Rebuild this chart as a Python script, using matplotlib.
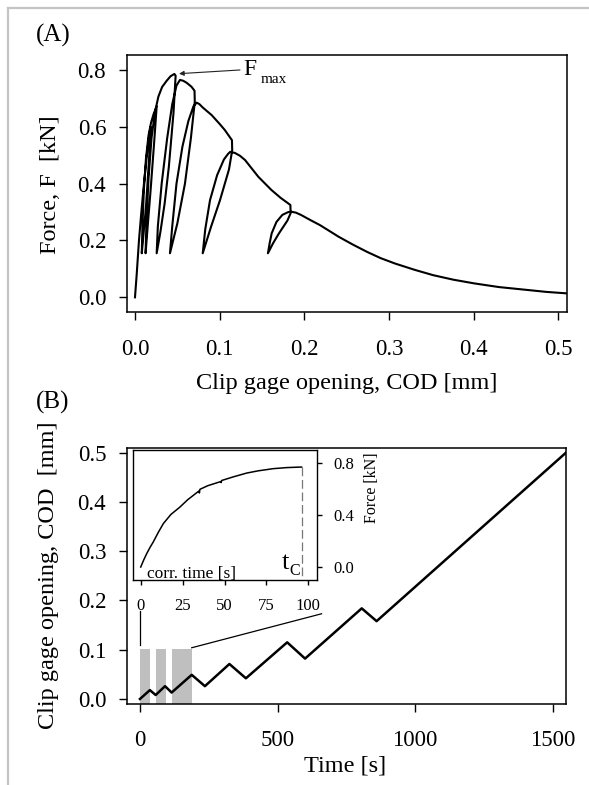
"""
Fracture test figure: force vs. clip gage opening (A) and COD vs. time with inset (B).
"""

import matplotlib
matplotlib.use("Agg")
import matplotlib.pyplot as plt
from matplotlib.lines import Line2D

plt.rcParams["font.family"] = ["Liberation Serif", "DejaVu Serif"]

# ---- Panel A: force vs. COD (loading / unloading cycles) ----
cod_a = [0.000, 0.002, 0.0047, 0.0075, 0.0106, 0.0140, 0.0170, 0.0185,
         0.0165, 0.0130, 0.0100, 0.0080,
         0.0088, 0.0105, 0.0130, 0.0160, 0.0190, 0.0220, 0.0256,
         0.0225, 0.0185, 0.0150, 0.0125,
         0.0135, 0.0160, 0.0195, 0.0235, 0.0276, 0.0320, 0.0374, 0.0420, 0.0465, 0.0480,
         0.0455, 0.0400, 0.0350, 0.0300, 0.0256,
         0.0270, 0.0315, 0.0380, 0.0440, 0.0490, 0.0531, 0.0570, 0.0610, 0.0667, 0.0703,
         0.0706,
         0.0660, 0.0590, 0.0500, 0.0413,
         0.0440, 0.0490, 0.0560, 0.0630, 0.0690, 0.0728, 0.0760, 0.0800, 0.0906, 0.1000,
         0.1060, 0.1145, 0.1148,
         0.1110, 0.1004, 0.0900, 0.0800,
         0.0830, 0.0886, 0.0970, 0.1050, 0.1100, 0.1125, 0.1180, 0.1240, 0.1300, 0.1457,
         0.1610, 0.1720, 0.1835, 0.1838,
         0.1800, 0.1700, 0.1630, 0.1570,
         0.1590, 0.1614, 0.1670, 0.1740, 0.1810, 0.1850, 0.1900, 0.1960, 0.2070, 0.2185,
         0.2406, 0.2570, 0.2740, 0.2900, 0.3070, 0.3300, 0.3520, 0.3760, 0.4006, 0.4300,
         0.4630, 0.4860, 0.5095]
force_a = [0.000, 0.080, 0.200, 0.300, 0.400, 0.500, 0.575, 0.600,
           0.480, 0.320, 0.220, 0.155,
           0.250, 0.380, 0.490, 0.570, 0.615, 0.645, 0.672,
           0.540, 0.380, 0.250, 0.155,
           0.260, 0.420, 0.560, 0.650, 0.706, 0.740, 0.762, 0.778, 0.786, 0.780,
           0.650, 0.460, 0.330, 0.230, 0.155,
           0.250, 0.400, 0.560, 0.680, 0.745, 0.765, 0.762, 0.755, 0.741, 0.727,
           0.688,
           0.560, 0.400, 0.260, 0.155,
           0.250, 0.400, 0.530, 0.620, 0.672, 0.685, 0.680, 0.668, 0.641, 0.610,
           0.589, 0.553, 0.518,
           0.450, 0.342, 0.250, 0.155,
           0.240, 0.342, 0.430, 0.485, 0.505, 0.512, 0.508, 0.498, 0.483, 0.424,
           0.378, 0.350, 0.325, 0.296,
           0.270, 0.225, 0.190, 0.155,
           0.190, 0.225, 0.265, 0.290, 0.300, 0.301, 0.298, 0.290, 0.272, 0.254,
           0.213, 0.186, 0.160, 0.138, 0.119, 0.097, 0.078, 0.062, 0.049, 0.036,
           0.026, 0.019, 0.014]

# ---- Panel B: COD vs. time ----
time_b = [0, 36, 57, 91, 115, 188, 236, 325, 385, 535, 600, 806, 860, 1548]
cod_b = [0.0, 0.018, 0.008, 0.026, 0.013, 0.049, 0.026, 0.071, 0.042,
         0.115, 0.082, 0.184, 0.158, 0.500]

# grey bands marking the loading phases shown in the inset
band_start = [0, 57, 115]
band_end = [36.5, 93, 188]
band_top = 0.101

# ---- Inset: force vs. corrected time ----
corr_time = [0, 1.8, 3.6, 5.5, 7.5, 10.5, 13.5, 18.0, 23.4, 28.0, 34.8, 35.0, 35.3,
             40.0, 47.8, 48.0, 48.3, 55.0, 63.2, 70.0, 79.1, 87.0, 95.0, 96.0]
force_in = [0.003, 0.058, 0.107, 0.153, 0.196, 0.270, 0.337, 0.407, 0.464, 0.520,
            0.588, 0.572, 0.600, 0.628, 0.660, 0.652, 0.668, 0.695, 0.725, 0.742,
            0.759, 0.767, 0.771, 0.771]
t_c = 96


def fig_line(fig, x0, y0, x1, y1, **kw):
    W, H = 589.0, 785.0
    fig.add_artist(Line2D([x0 / W, x1 / W], [1 - y0 / H, 1 - y1 / H],
                          transform=fig.transFigure, **kw))


def style_axes(ax, labelsize, pad_x, pad_y, length, lw=1.1):
    for s in ax.spines.values():
        s.set_linewidth(lw)
    ax.tick_params(axis="both", direction="out", length=length, width=1.0,
                   labelsize=labelsize, colors="black")
    ax.tick_params(axis="x", pad=pad_x)
    ax.tick_params(axis="y", pad=pad_y)


fig = plt.figure(figsize=(5.89, 7.85), dpi=100, facecolor="white")

# page frame
fig_line(fig, 7.5, 7.5, 7.5, 785, color="#c4c4c4", lw=1.6)
fig_line(fig, 7.5, 7.5, 589, 7.5, color="#c4c4c4", lw=1.6)

# ---------------- Panel A ----------------
axA = fig.add_axes([0.2151, 0.6029, 0.7470, 0.3270])
axA.plot(cod_a, force_a, color="black", lw=1.5, solid_joinstyle="round")
axA.set_xlim(-0.0098, 0.5098)
axA.set_ylim(-0.0507, 0.8526)
axA.set_xticks([0.0, 0.1, 0.2, 0.3, 0.4, 0.5])
axA.set_xticklabels(["0.0", "0.1", "0.2", "0.3", "0.4", "0.5"])
axA.set_yticks([0.0, 0.2, 0.4, 0.6, 0.8])
axA.set_yticklabels(["0.0", "0.2", "0.4", "0.6", "0.8"])
style_axes(axA, 16.5, 14, 9, 5.8)

axA.annotate("", xy=(0.052, 0.787), xytext=(0.124, 0.800),
             arrowprops=dict(arrowstyle="-|>", lw=0.8, color="#222222",
                             mutation_scale=7, shrinkA=0, shrinkB=0))
axA.text(0.1285, 0.800, "F", fontsize=17, ha="left", va="center")
axA.text(0.1480, 0.765, "max", fontsize=11, ha="left", va="center")

fig.text(0.090, 0.9554, "(A)", fontsize=18, ha="center", va="center")
fig.text(0.0849, 0.7643, "Force, F  [kN]", fontsize=17.5, rotation=90,
         ha="center", va="center")
fig.text(0.5886, 0.5121, "Clip gage opening, COD [mm]", fontsize=17.5,
         ha="center", va="center")

# ---------------- Panel B ----------------
axB = fig.add_axes([0.2151, 0.1032, 0.7459, 0.3257])
ybot = -0.0102
for s, e in zip(band_start, band_end):
    axB.bar(s, band_top - ybot, width=e - s, bottom=ybot, align="edge",
            color="#bfbfbf", edgecolor="none", zorder=1)
axB.plot(time_b, cod_b, color="black", lw=1.8, zorder=3)
axB.plot([0, 0], [0.110, 0.178], color="black", lw=0.9, zorder=3)
axB.plot([188, 660], [0.104, 0.173], color="black", lw=0.9, zorder=3)
axB.set_xlim(-48.3, 1548.5)
axB.set_ylim(ybot, 0.509)
axB.set_xticks([0, 500, 1000, 1500])
axB.set_yticks([0.0, 0.1, 0.2, 0.3, 0.4, 0.5])
axB.set_yticklabels(["0.0", "0.1", "0.2", "0.3", "0.4", "0.5"])
style_axes(axB, 16.5, 13, 9, 5.8)

fig.text(0.090, 0.4879, "(B)", fontsize=18, ha="center", va="center")
fig.text(0.0815, 0.2675, "Clip gage opening, COD  [mm]", fontsize=17.5,
         rotation=90, ha="center", va="center")
fig.text(0.5857, 0.0245, "Time [s]", fontsize=17.5, ha="center", va="center")

# ---------------- Inset ----------------
axI = fig.add_axes([0.2250, 0.2611, 0.3127, 0.1656])
axI.plot(corr_time, force_in, color="black", lw=1.1)
axI.plot([t_c, t_c], [0.771, -0.097], color="#777777", lw=0.9,
         dashes=(7, 3))
axI.set_xlim(-4.9, 105)
axI.set_ylim(-0.097, 0.902)
axI.set_xticks([0, 25, 50, 75, 100])
axI.set_yticks([0.0, 0.4, 0.8])
axI.set_yticklabels(["0.0", "0.4", "0.8"])
axI.yaxis.tick_right()
style_axes(axI, 12, 9.5, 8.4, 3.5, lw=1.0)
axI.text(3.5, -0.05, "corr. time [s]", fontsize=12.5, ha="left", va="center")
axI.text(88.5, -0.015, "t", fontsize=19, ha="right", va="baseline")
axI.text(88.6, -0.055, "C", fontsize=11.5, ha="left", va="baseline")
fig.text(0.631, 0.3783, "Force [kN]", fontsize=11.5, rotation=90,
         ha="center", va="center")

fig.savefig("out.png", dpi=100, facecolor="white")
